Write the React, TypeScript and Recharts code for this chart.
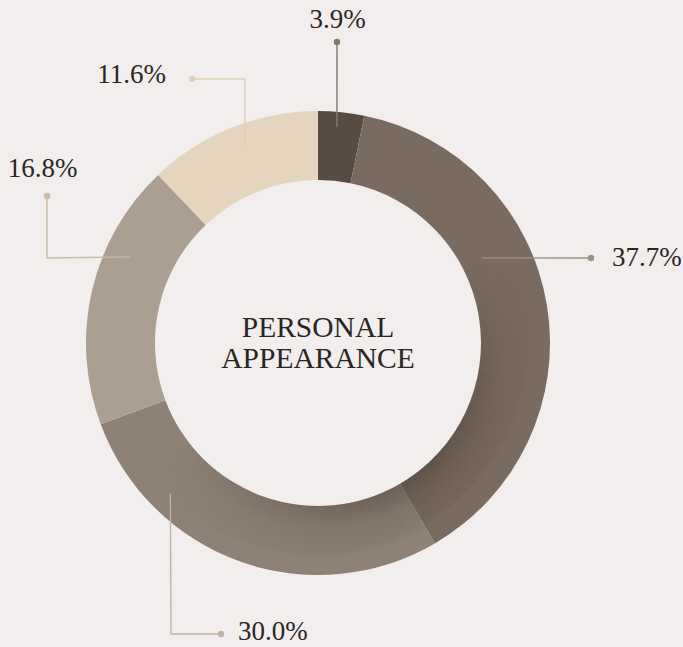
import { PieChart, Pie, Cell } from 'recharts'

// slice sizes as drawn (clockwise from 12 o'clock) and the printed labels
const shares = [3.2, 38.4, 27.7, 18.6, 12.1]
const labels = ['3.9%', '37.7%', '30.0%', '16.8%', '11.6%']
const centerTitle = ['PERSONAL', 'APPEARANCE']

const sliceColors = ['#574c43', '#7a6b60', '#8e8176', '#ab9f91', '#e5d5bf']
const leaderColors = ['#857869', '#9d9185', '#c2b4a3', '#cbbca9', '#dfcfb8']

const W = 683
const H = 647
const CX = 318
const CY = 343
const R_OUT = 232
const R_IN = 163

// leader layout: start on the ring (angle clockwise from top, radius), then bends relative to centre, text spot
const leaders = [
  { angle: 5, r: 217, bends: [[19, -301]], text: [19.5, -315], anchor: 'middle' },
  { angle: 62.6, r: 185, bends: [[273, -85]], text: [294, -77], anchor: 'start' },
  { angle: 224.4, r: 211, bends: [[-147, 291], [-97, 291]], text: [-80, 297], anchor: 'start' },
  { angle: 294.6, r: 207, bends: [[-271, -85], [-271, -147]], text: [-275.5, -166], anchor: 'middle' },
  { angle: 339.6, r: 209, bends: [[-73, -264], [-126, -264]], text: [-152, -260], anchor: 'end' },
]

// inner shadow: stacked faint sectors around the lower right (clockwise degrees)
const SHADE_CENTER = 148
const shadeSpreads = [12, 18, 24, 30, 36, 42, 48, 54, 60, 66, 72, 78, 84]

const data = shares.map((v, i) => ({ name: labels[i], value: v }))

const renderLeader = (props: any) => {
  const { index } = props
  const l = leaders[index]
  const a = (l.angle * Math.PI) / 180
  const pts = [
    [CX + l.r * Math.sin(a), CY - l.r * Math.cos(a)],
    ...l.bends.map(([dx, dy]) => [CX + dx, CY + dy]),
  ]
  const end = pts[pts.length - 1]
  const color = leaderColors[index]
  return (
    <g key={`leader-${index}`}>
      <polyline
        points={pts.map((p) => p.join(',')).join(' ')}
        fill="none"
        stroke={color}
        strokeWidth={1.4}
      />
      <circle cx={end[0]} cy={end[1]} r={3.2} fill={color} />
      <text
        x={CX + l.text[0]}
        y={CY + l.text[1]}
        textAnchor={l.anchor as any}
        fontFamily="'Liberation Serif', serif"
        fontSize={27}
        fill="#2a2624"
      >
        {labels[index]}
      </text>
    </g>
  )
}

export default function App() {
  return (
    <div
      style={{
        position: 'absolute',
        left: 0,
        top: 0,
        width: W,
        height: H,
        background: '#f2eeed',
      }}
    >
      <PieChart width={W} height={H} margin={{ top: 0, right: 0, bottom: 0, left: 0 }}>
        <defs>
          <radialGradient id="shade" gradientUnits="userSpaceOnUse" cx={CX} cy={CY} r={R_OUT}>
            <stop offset="0.70" stopColor="#2b2019" stopOpacity={1} />
            <stop offset="0.80" stopColor="#2b2019" stopOpacity={0.4} />
            <stop offset="0.97" stopColor="#2b2019" stopOpacity={0} />
          </radialGradient>
        </defs>
        <Pie
          data={data}
          dataKey="value"
          cx={CX}
          cy={CY}
          innerRadius={R_IN}
          outerRadius={R_OUT}
          startAngle={90}
          endAngle={-270}
          stroke="none"
          label={renderLeader}
          labelLine={false}
          isAnimationActive={false}
        >
          {data.map((d, i) => (
            <Cell key={d.name} fill={sliceColors[i]} />
          ))}
        </Pie>
        {shadeSpreads.map((s) => (
          <Pie
            key={`shade-${s}`}
            data={[{ name: 'shade', value: 1 }]}
            dataKey="value"
            cx={CX}
            cy={CY}
            innerRadius={R_IN}
            outerRadius={R_OUT}
            startAngle={90 - (SHADE_CENTER - s)}
            endAngle={90 - (SHADE_CENTER + s)}
            stroke="none"
            isAnimationActive={false}
          >
            <Cell fill="url(#shade)" fillOpacity={0.032} />
          </Pie>
        ))}
        <text
          x={CX}
          y={337}
          textAnchor="middle"
          fontFamily="'Liberation Serif', serif"
          fontSize={29.5}
          fill="#2a2624"
        >
          {centerTitle[0]}
        </text>
        <text
          x={CX}
          y={368}
          textAnchor="middle"
          fontFamily="'Liberation Serif', serif"
          fontSize={29.5}
          fill="#2a2624"
        >
          {centerTitle[1]}
        </text>
      </PieChart>
    </div>
  )
}
